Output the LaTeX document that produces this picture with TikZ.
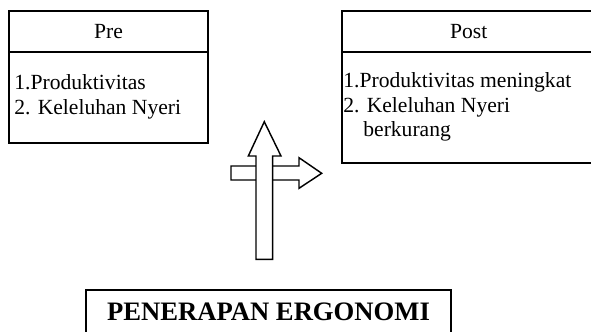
\documentclass[tikz,border=0pt]{standalone}
\usepackage{fontspec}
\setmainfont{Liberation Serif}
\begin{document}
\begin{tikzpicture}[x=0.5556pt,y=-0.5556pt,
    box/.style={draw,line width=0.8pt},
    label/.style={inner sep=0pt,font=\fontsize{12}{14.4}\selectfont},
    blockarrow/.style={draw,fill=white,line width=0.8pt,line join=miter}]
  \useasboundingbox (0,0) rectangle (591,331);
  \clip (0,0) rectangle (591,331);
  % before
  \draw[box] (9,11) rectangle (208,143);
  \draw[box] (9,52) -- (208,52);
  \node[label,anchor=base] (pre) at (108.5,38.3) {Pre};
  \node[label,anchor=base west] (pre1) at (14,89.3) {1.Produktivitas};
  \node[label,anchor=base west] (pre2) at (14,114.3) {2. Keleluhan Nyeri};
  % after
  \draw[box,line width=1pt] (342,11) rectangle (596,163);
  \draw[box] (342,52) -- (596,52);
  \node[label,anchor=base] (post) at (468.7,38.3) {Post};
  \node[label,anchor=base west] (post1) at (343,87.7) {1.Produktivitas meningkat};
  \node[label,anchor=base west] (post2) at (343,112.3) {2. Keleluhan Nyeri};
  \node[label,anchor=base west] (post3) at (363,136.7) {berkurang};
  % arrows
  \draw[blockarrow] (231,166) -- (299,166) -- (299,157.7) -- (321.7,173.3)
    -- (299,188.3) -- (299,180) -- (231,180) -- cycle;
  \draw[blockarrow] (256,259.3) -- (256,156) -- (248.3,156) -- (264.3,121.7)
    -- (281,156) -- (272.7,156) -- (272.7,259.3) -- cycle;
  % ergonomi
  \draw[box,line width=1.1pt] (86,290) rectangle (451,340);
  \node[inner sep=0pt,anchor=base,font=\bfseries\fontsize{14.8}{17}\selectfont]
    (ergo) at (268.5,320) {PENERAPAN ERGONOMI};
\end{tikzpicture}
\end{document}
